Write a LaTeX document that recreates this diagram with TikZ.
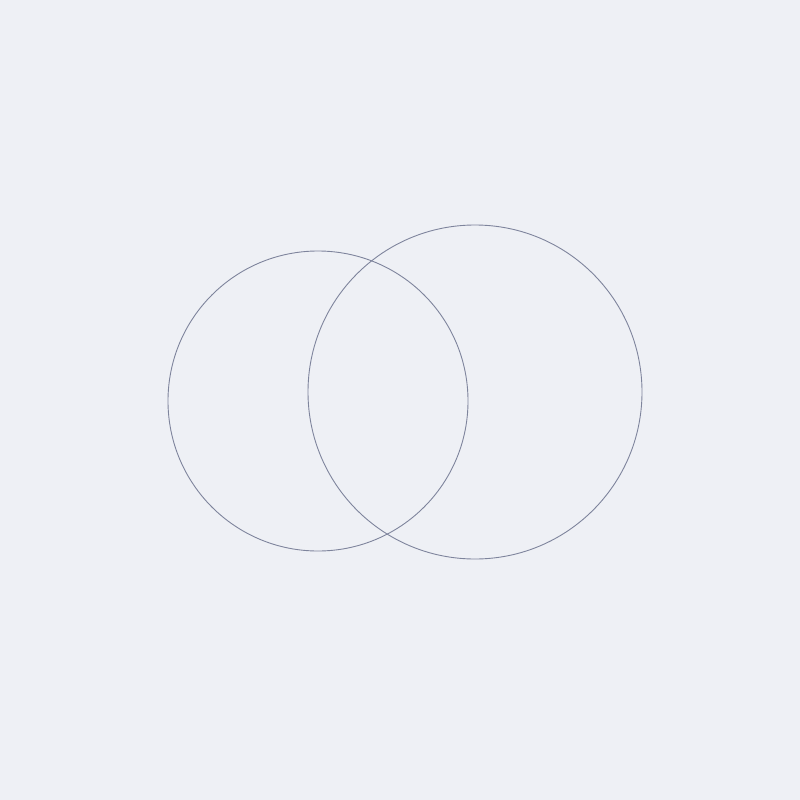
\documentclass[tikz,border=0pt]{standalone}
\definecolor{paper}{HTML}{EEF0F5}
\definecolor{pencil}{HTML}{7E849C}
\tikzset{circ/.style={draw=pencil, line width=0.9pt}}
\begin{document}
\begin{tikzpicture}[x=1pt,y=-1pt]
\fill[paper] (0,0) rectangle (800,800);
\useasboundingbox (0,0) rectangle (800,800);
\node[circ, circle, minimum size=300pt, inner sep=0pt] (left) at (318,401) {};
\node[circ, circle, minimum size=334pt, inner sep=0pt] (right) at (475,392) {};
\end{tikzpicture}
\end{document}
